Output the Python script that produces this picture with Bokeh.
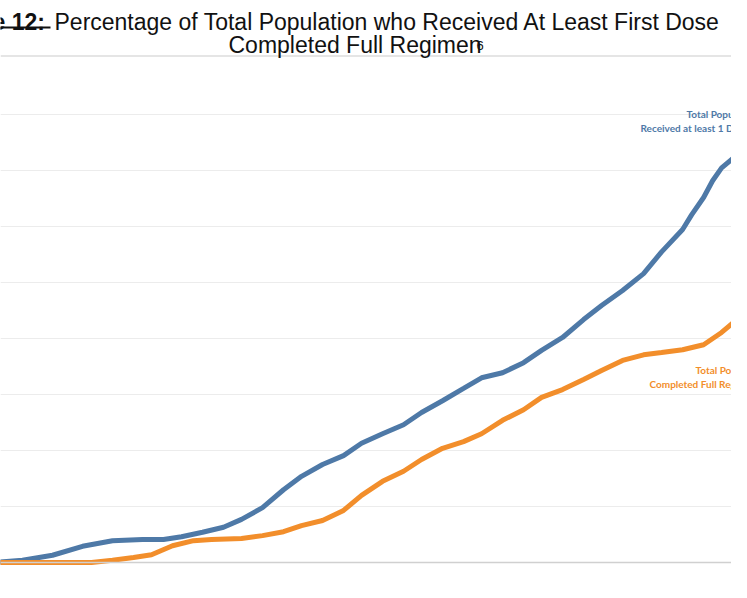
from bokeh.plotting import figure
from bokeh.models import Label, Span, FixedTicker, Range1d, BoxAnnotation
from bokeh.embed import file_html
from bokeh.resources import INLINE

days_first = [0,10,20,30,40,50,57,63,70,77,83,90,97,103,110,117,123,130,137,143,150,157,163,170,177,183,190,197,203,210,217,223,230,233,237,240,243,247,249]
pct_first = [0,0.4,1.3,2.9,3.9,4.1,4.1,4.6,5.4,6.3,7.7,9.8,13.0,15.4,17.5,19.1,21.3,23.0,24.6,26.8,28.9,31.1,33.0,33.9,35.7,37.9,40.2,43.4,45.9,48.6,51.6,55.5,59.5,62.1,65.2,68.2,70.5,72.3,73.2]
days_full = [0,33,40,47,53,60,67,73,83,90,97,103,110,117,123,130,137,143,150,157,163,170,177,183,190,197,203,210,217,223,230,237,243,247,249]
pct_full = [0,0,0.4,0.9,1.4,3.0,3.9,4.1,4.3,4.8,5.5,6.6,7.5,9.3,12.0,14.5,16.3,18.4,20.4,21.6,23.0,25.4,27.3,29.5,30.9,32.7,34.3,36.1,37.1,37.5,38.0,38.9,41.1,42.9,44.6]
grid_ticks = [10,20,30,40,50,60,70,80]

W, H = 731, 582
p = figure(width=W, height=H, output_backend="svg", toolbar_location=None,
           x_range=Range1d(2.67, 246.3), y_range=Range1d(-3.57, 100.4),
           min_border=0, outline_line_color=None)
p.axis.visible = False
p.xgrid.visible = False
p.ygrid.ticker = FixedTicker(ticks=grid_ticks)
p.ygrid.grid_line_color = "#ececec"
p.add_layout(Span(location=0, dimension="width", line_color="#d0d0d0", line_width=1.5))
p.add_layout(Span(location=90.5, dimension="width", line_color="#dddddd", line_width=1.5))

p.line(days_first, pct_first, line_color="#4e79a7", line_width=5)
p.line(days_full, pct_full, line_color="#f28e2b", line_width=5)

def lab(text, px, py, **kw):
    p.add_layout(Label(x=px - 8, y=590 - py, x_units="screen", y_units="screen", text=text, **kw))

tf = "Liberation Sans"
lab("e 12:", 0, 42, text_font=tf, text_font_size="23px", text_font_style="bold", text_color="#111111")
lab("Percentage of Total Population who Received At Least First Dose", 62, 42, text_font=tf, text_font_size="23px", text_color="#111111")
lab("Completed Full Regimen", 236, 65, text_font=tf, text_font_size="23px", text_color="#111111")
lab("6", 484, 57, text_font=tf, text_font_size="13px", text_color="#111111")
p.add_layout(BoxAnnotation(left=-8, right=50, bottom=590-36, top=590-34, left_units="screen", right_units="screen",
                           top_units="screen", bottom_units="screen", fill_color="#111111", fill_alpha=1, line_color=None))

lf = "Lato"
lab("Total Population Who", 694, 127, text_font=lf, text_font_size="10px", text_font_style="bold", text_color="#4e79a7")
lab("Received at least 1 Dose", 648, 141, text_font=lf, text_font_size="10px", text_font_style="bold", text_color="#4e79a7")
lab("Total Population Who", 703, 383, text_font=lf, text_font_size="10px", text_font_style="bold", text_color="#f28e2b")
lab("Completed Full Regimen", 657, 397, text_font=lf, text_font_size="10px", text_font_style="bold", text_color="#f28e2b")

open("out.html", "w").write(file_html(p, INLINE))
